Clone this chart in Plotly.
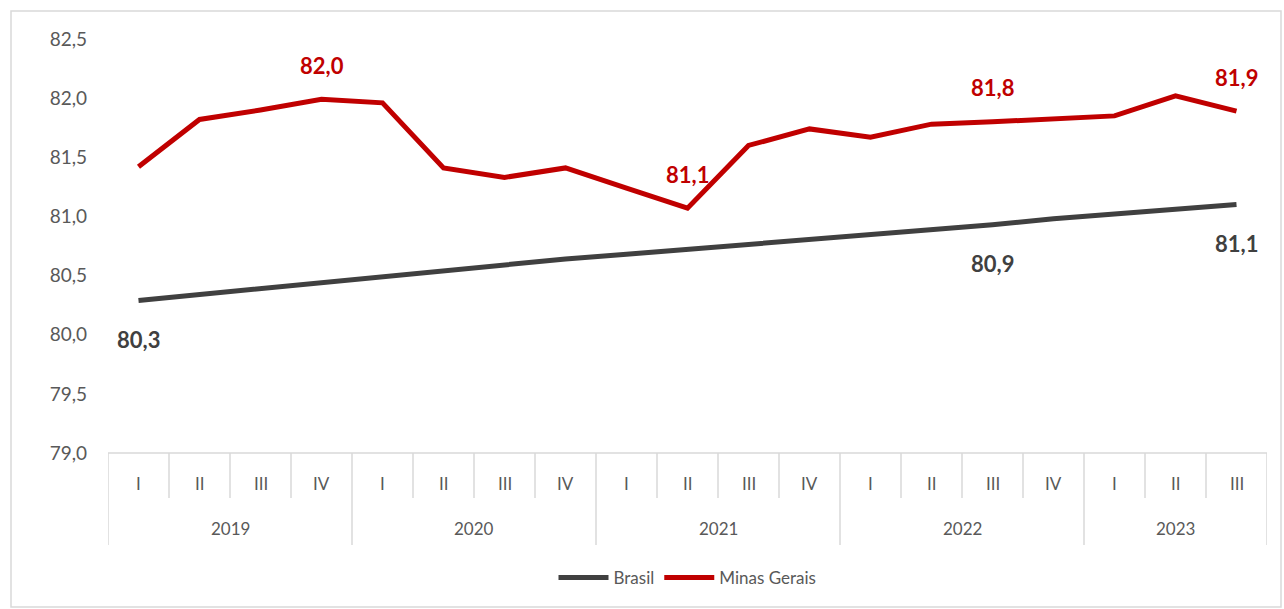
import plotly.graph_objects as go

years = ["2019", "2020", "2021", "2022", "2023"]
quarters_per_year = [4, 4, 4, 4, 3]
quarter_names = ["I", "II", "III", "IV"]

brasil = [80.29, 80.34, 80.40, 80.45, 80.50, 80.55, 80.60, 80.64, 80.68, 80.72,
          80.76, 80.80, 80.84, 80.88, 80.93, 80.98, 81.02, 81.06, 81.10]
minas = [81.42, 81.82, 81.90, 81.99, 81.96, 81.41, 81.33, 81.41, 81.24, 81.07,
         81.60, 81.74, 81.67, 81.78, 81.80, 81.83, 81.85, 82.02, 81.89]

brasil_label_idx = [0, 14, 18]
minas_label_idx = [3, 9, 14, 18]

y_ticks = [79.0, 79.5, 80.0, 80.5, 81.0, 81.5, 82.0, 82.5]

quarters = []
year_of = []
for y, n in zip(years, quarters_per_year):
    for q in quarter_names[:n]:
        quarters.append(q)
        year_of.append(y)
x = list(range(len(quarters)))

BR_COLOR = "#404040"
MG_COLOR = "#C00000"
GRID = "#D9D9D9"
TXT = "#595959"
FONT = "Lato"

fig = go.Figure()
fig.add_trace(go.Scatter(x=x, y=brasil, mode="lines", name="Brasil",
                         line=dict(color=BR_COLOR, width=5)))
fig.add_trace(go.Scatter(x=x, y=minas, mode="lines", name="Minas Gerais",
                         line=dict(color=MG_COLOR, width=5)))

def fmt(v):
    return f"{v:.1f}".replace(".", ",")

ann = []
for i in minas_label_idx:
    ann.append(dict(x=x[i], y=minas[i], xref="x", yref="y", text=f"<b>{fmt(minas[i])}</b>",
                    showarrow=False, yshift=34, font=dict(family=FONT, size=22, color=MG_COLOR)))
for i in brasil_label_idx:
    ann.append(dict(x=x[i], y=brasil[i], xref="x", yref="y", text=f"<b>{fmt(brasil[i])}</b>",
                    showarrow=False, yshift=-39, font=dict(family=FONT, size=22, color=BR_COLOR)))

H = 414.0  # plot height in px
def py(px_below):
    return -px_below / H

for i, q in enumerate(quarters):
    ann.append(dict(x=x[i], y=py(30), xref="x", yref="paper", text=q, showarrow=False,
                    yanchor="middle", xanchor="center",
                    font=dict(family=FONT, size=17, color=TXT)))

start = 0
for y, n in zip(years, quarters_per_year):
    center = (start - 0.5 + start + n - 0.5) / 2
    ann.append(dict(x=center, y=py(75), xref="x", yref="paper", text=y, showarrow=False,
                    yanchor="middle", xanchor="center",
                    font=dict(family=FONT, size=17, color=TXT)))
    start += n

shapes = []
shapes.append(dict(type="line", xref="paper", yref="paper", x0=0, x1=1, y0=0, y1=0,
                   line=dict(color=GRID, width=1.5)))
boundaries_year = set()
acc = 0
for n in quarters_per_year:
    boundaries_year.add(acc)
    acc += n
boundaries_year.add(acc)
for b in range(len(quarters) + 1):
    long = b in boundaries_year
    shapes.append(dict(type="line", xref="x", yref="paper", x0=b - 0.5, x1=b - 0.5,
                       y0=0, y1=py(92 if long else 45), line=dict(color=GRID, width=1.5)))

L, R, T, B = 108, 1267, 39, 453
shapes.append(dict(type="rect", xref="paper", yref="paper",
                   x0=(11 - L) / (R - L), x1=(1281 - L) / (R - L),
                   y0=(B - 607) / H, y1=(B - 11) / H,
                   line=dict(color="#D9D9D9", width=1.5), fillcolor="rgba(0,0,0,0)", layer="below"))

fig.update_layout(
    width=1284, height=609,
    margin=dict(l=L, r=1284 - R, t=T, b=609 - B),
    plot_bgcolor="white", paper_bgcolor="white",
    separators=",.",
    showlegend=True,
    legend=dict(orientation="h", x=0.5, xanchor="center", y=py(125), yanchor="middle",
                font=dict(family=FONT, size=17, color=TXT), itemwidth=50, tracegroupgap=0),
    xaxis=dict(range=[-0.5, len(quarters) - 0.5], showgrid=False, zeroline=False,
               showticklabels=False, showline=False, ticks=""),
    yaxis=dict(range=[79.0, 82.5], tickvals=y_ticks, tickformat=".1f", showgrid=False,
               zeroline=False, showline=False, ticks="", ticklabelstandoff=20,
               tickfont=dict(family=FONT, size=19, color=TXT)),
    annotations=ann,
    shapes=shapes,
)

fig.write_html("out.html", config={"displayModeBar": False},
               post_script="document.body.style.margin='0';document.body.style.overflow='hidden';")
